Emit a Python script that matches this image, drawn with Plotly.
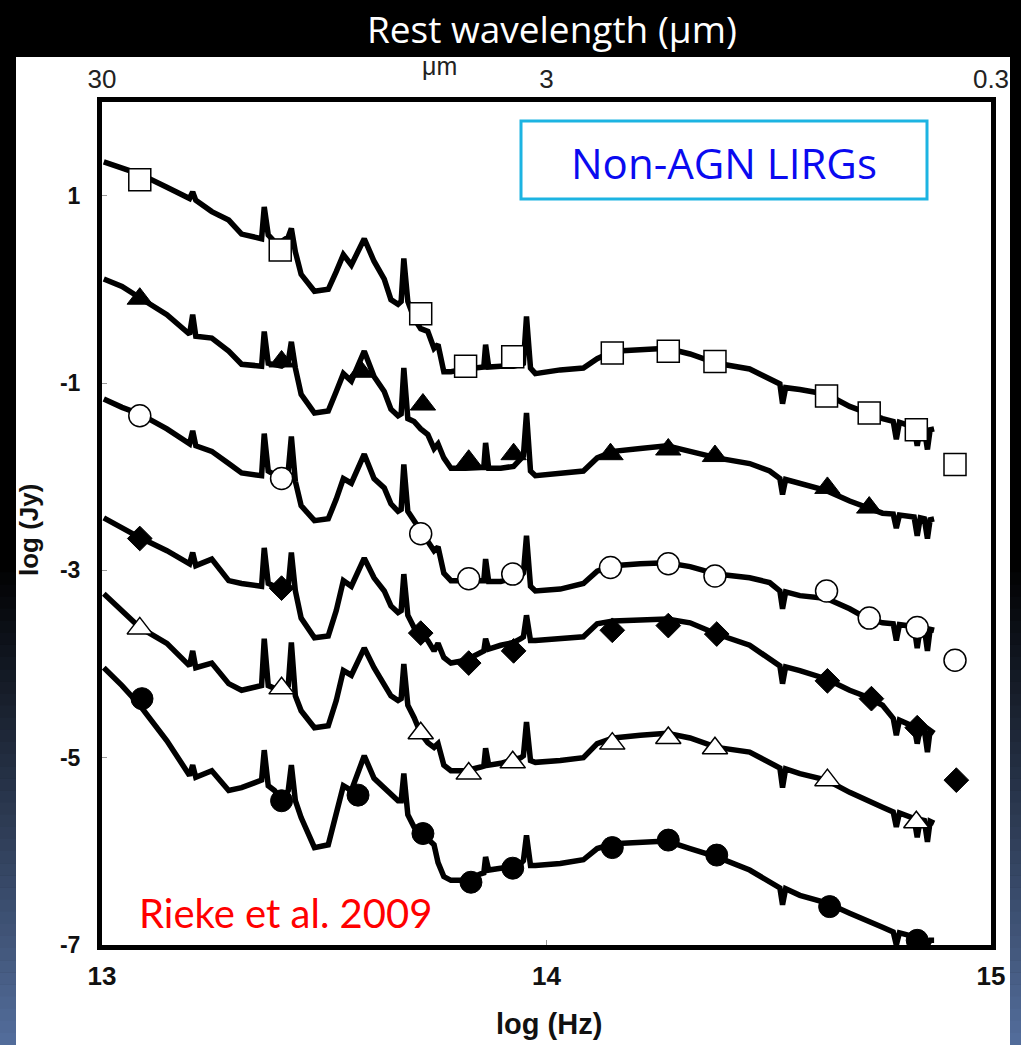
import plotly.graph_objects as go

# ---------------- data (log10 frequency [Hz], log10 flux [Jy]) ----------------
log_freq = [13.004, 13.045, 13.085, 13.146, 13.197, 13.204, 13.211, 13.247, 13.285, 13.314,
            13.359, 13.365, 13.374, 13.388, 13.404, 13.419, 13.426, 13.435, 13.448, 13.478,
            13.509, 13.527, 13.543, 13.561, 13.590, 13.612, 13.635, 13.650, 13.666, 13.673,
            13.679, 13.688, 13.702, 13.717, 13.733, 13.747, 13.756, 13.769, 13.785, 13.818,
            13.852, 13.859, 13.863, 13.870, 13.897, 13.926, 13.942, 13.948, 13.955, 13.964,
            13.975, 14.031, 14.083, 14.114, 14.150, 14.211, 14.271, 14.323, 14.383, 14.457,
            14.502, 14.525, 14.531, 14.538, 14.570, 14.630, 14.682, 14.720, 14.756, 14.780,
            14.787, 14.794, 14.827, 14.834, 14.841, 14.850, 14.857, 14.863, 14.872]

sed_square = [1.36, 1.30, 1.23, 1.09, 0.97, 1.04, 0.95, 0.83, 0.74, 0.59,
              0.54, 0.88, 0.58, 0.51, 0.51, 0.56, 0.65, 0.40, 0.16, -0.02,
              -0.00, 0.19, 0.37, 0.26, 0.54, 0.30, 0.11, -0.11, -0.16, -0.13,
              0.33, -0.13, -0.31, -0.42, -0.45, -0.63, -0.59, -0.88, -0.88, -0.85,
              -0.84, -0.83, -0.59, -0.83, -0.82, -0.82, -0.80, -0.79, -0.29, -0.84,
              -0.90, -0.86, -0.84, -0.74, -0.66, -0.64, -0.63, -0.69, -0.79, -0.85,
              -0.96, -1.01, -1.22, -1.05, -1.07, -1.12, -1.25, -1.32, -1.38, -1.41,
              -1.60, -1.42, -1.47, -1.67, -1.48, -1.49, -1.71, -1.50, -1.49]

sed_triangle = [0.11, 0.03, -0.09, -0.27, -0.48, -0.27, -0.50, -0.52, -0.66, -0.80,
                -0.82, -0.45, -0.79, -0.80, -0.82, -0.77, -0.56, -0.84, -1.12, -1.32,
                -1.30, -1.09, -0.90, -0.98, -0.66, -0.93, -1.09, -1.28, -1.35, -1.33,
                -0.84, -1.38, -1.41, -1.49, -1.55, -1.70, -1.65, -1.80, -1.91, -1.91,
                -1.90, -1.90, -1.64, -1.91, -1.91, -1.89, -1.81, -1.78, -1.32, -1.94,
                -1.99, -1.97, -1.94, -1.80, -1.73, -1.70, -1.67, -1.73, -1.80, -1.86,
                -1.94, -2.02, -2.19, -2.03, -2.07, -2.15, -2.26, -2.33, -2.39, -2.40,
                -2.55, -2.41, -2.43, -2.63, -2.44, -2.45, -2.66, -2.46, -2.45]

sed_circle = [-1.17, -1.26, -1.33, -1.49, -1.65, -1.51, -1.67, -1.73, -1.86, -1.96,
              -1.99, -1.54, -1.94, -1.97, -2.02, -1.94, -1.57, -2.05, -2.31, -2.47,
              -2.45, -2.24, -2.02, -2.07, -1.76, -2.02, -2.12, -2.29, -2.37, -2.35,
              -1.87, -2.37, -2.47, -2.58, -2.69, -2.79, -2.75, -3.03, -3.11, -3.11,
              -3.11, -3.11, -2.88, -3.12, -3.12, -3.09, -3.06, -3.03, -2.63, -3.17,
              -3.22, -3.20, -3.14, -3.01, -2.95, -2.93, -2.92, -2.96, -3.04, -3.08,
              -3.13, -3.22, -3.41, -3.23, -3.27, -3.30, -3.41, -3.51, -3.56, -3.57,
              -3.75, -3.58, -3.60, -3.83, -3.61, -3.62, -3.86, -3.63, -3.64]

sed_diamond = [-2.44, -2.55, -2.65, -2.79, -2.93, -2.81, -2.95, -2.88, -3.11, -3.14,
               -3.17, -2.76, -3.14, -3.17, -3.22, -3.17, -2.81, -3.22, -3.51, -3.72,
               -3.70, -3.43, -3.11, -3.17, -2.87, -3.08, -3.22, -3.38, -3.45, -3.43,
               -3.04, -3.48, -3.61, -3.67, -3.75, -3.86, -3.78, -3.93, -3.99, -3.96,
               -3.88, -3.86, -3.73, -3.84, -3.80, -3.77, -3.73, -3.71, -3.48, -3.75,
               -3.75, -3.73, -3.71, -3.57, -3.54, -3.53, -3.52, -3.56, -3.68, -3.80,
               -3.94, -4.02, -4.21, -4.03, -4.07, -4.16, -4.28, -4.35, -4.44, -4.58,
               -4.76, -4.60, -4.67, -4.85, -4.68, -4.70, -4.94, -4.71, -4.74]

sed_open_triangle = [-3.25, -3.43, -3.61, -3.78, -4.02, -3.86, -4.04, -3.99, -4.21, -4.28,
                     -4.23, -3.73, -4.23, -4.26, -4.28, -4.23, -3.77, -4.34, -4.50, -4.68,
                     -4.66, -4.39, -4.07, -4.12, -3.83, -4.04, -4.21, -4.34, -4.39, -4.37,
                     -4.00, -4.44, -4.57, -4.74, -4.84, -4.89, -4.85, -5.08, -5.14, -5.14,
                     -5.10, -5.09, -4.90, -5.08, -5.06, -5.03, -5.00, -4.98, -4.62, -5.03,
                     -5.05, -5.03, -5.00, -4.85, -4.79, -4.76, -4.74, -4.79, -4.89, -4.94,
                     -5.05, -5.11, -5.32, -5.12, -5.17, -5.24, -5.37, -5.46, -5.53, -5.58,
                     -5.74, -5.59, -5.65, -5.85, -5.66, -5.67, -5.90, -5.68, -5.70]

sed_dot = [-4.04, -4.23, -4.44, -4.82, -5.19, -5.08, -5.21, -5.14, -5.35, -5.32,
           -5.24, -4.92, -5.30, -5.35, -5.46, -5.35, -5.08, -5.46, -5.64, -5.96,
           -5.93, -5.61, -5.30, -5.35, -4.98, -5.22, -5.32, -5.40, -5.46, -5.46,
           -5.17, -5.61, -5.74, -5.80, -5.86, -5.93, -6.12, -6.27, -6.31, -6.31,
           -6.24, -6.23, -6.06, -6.20, -6.18, -6.16, -6.13, -6.10, -5.83, -6.15,
           -6.15, -6.13, -6.09, -5.97, -5.92, -5.90, -5.89, -5.97, -6.06, -6.20,
           -6.33, -6.39, -6.57, -6.40, -6.47, -6.55, -6.66, -6.73, -6.81, -6.86,
           -7.00, -6.87, -6.91, -6.95, -6.92, -6.94, -7.00, -6.95, -6.95]

# photometry points
square_x = [13.085, 13.401, 13.717, 13.818, 13.924, 14.148, 14.274, 14.379, 14.630, 14.726, 14.832, 14.919]
square_y = [1.17, 0.42, -0.26, -0.82, -0.72, -0.68, -0.66, -0.77, -1.14, -1.32, -1.50, -1.87]

triangle_x = [13.085, 13.404, 13.583, 13.722, 13.825, 13.926, 14.144, 14.274, 14.379, 14.632, 14.726]
triangle_y = [-0.10, -0.77, -0.88, -1.23, -1.83, -1.76, -1.76, -1.71, -1.78, -2.12, -2.33]

circle_x = [13.085, 13.404, 13.717, 13.825, 13.924, 14.144, 14.274, 14.379, 14.630, 14.726, 14.834, 14.919]
circle_y = [-1.35, -2.02, -2.61, -3.09, -3.04, -2.97, -2.93, -3.06, -3.22, -3.51, -3.61, -3.96]

diamond_x = [13.085, 13.404, 13.717, 13.825, 13.926, 14.148, 14.274, 14.383, 14.632, 14.731, 14.834, 14.922]
diamond_y = [-2.66, -3.19, -3.67, -3.99, -3.86, -3.64, -3.59, -3.68, -4.18, -4.37, -4.68, -5.24]

open_triangle_x = [13.085, 13.404, 13.717, 13.825, 13.924, 14.148, 14.274, 14.379, 14.632, 14.832]
open_triangle_y = [-3.62, -4.26, -4.74, -5.17, -5.05, -4.85, -4.79, -4.90, -5.24, -5.69]

dot_x = [13.090, 13.404, 13.576, 13.722, 13.830, 13.924, 14.148, 14.274, 14.383, 14.637, 14.834]
dot_y = [-4.37, -5.46, -5.40, -5.81, -6.33, -6.18, -5.96, -5.88, -6.04, -6.59, -6.95]

y_ticks = [-7, -5, -3, -1, 1]
x_ticks = [13, 14, 15]
top_ticks = [13, 14, 15]
top_tick_text = ["30", "3", "0.3"]

# ---------------- figure ----------------
W, H = 1021, 1045
ML, MR, MT, MB = 102, 30, 102, 100
PW, PH = W - ML - MR, H - MT - MB


def px(xp):
    return (xp - ML) / PW


def py(yp):
    return (H - MB - yp) / PH


fig = go.Figure()

line_style = dict(color="black", width=5.5)
curves = [sed_square, sed_triangle, sed_circle, sed_diamond, sed_open_triangle, sed_dot]
for c in curves:
    fig.add_trace(go.Scatter(x=log_freq, y=c, mode="lines", line=line_style,
                             showlegend=False, hoverinfo="skip"))

open_m = dict(color="white", line=dict(color="black", width=1.5))
filled_m = dict(color="black", line=dict(color="black", width=1))
marker_sets = [
    (square_x, square_y, "square", 22, open_m),
    (triangle_x, triangle_y, "triangle-up", 22, filled_m),
    (circle_x, circle_y, "circle", 22, open_m),
    (diamond_x, diamond_y, "diamond", 19, filled_m),
    (open_triangle_x, open_triangle_y, "triangle-up", 22, open_m),
    (dot_x, dot_y, "circle", 22, filled_m),
]
for mx, my, sym, sz, sty in marker_sets:
    fig.add_trace(go.Scatter(x=mx, y=my, mode="markers",
                             marker=dict(symbol=sym, size=sz, **sty),
                             showlegend=False, hoverinfo="skip"))

# dummy trace to carry the top (wavelength) axis
fig.add_trace(go.Scatter(x=top_ticks, y=[None] * len(top_ticks), xaxis="x2", mode="markers",
                         showlegend=False, hoverinfo="skip"))

shapes = []
# white scanned-figure panel
shapes.append(dict(type="rect", xref="paper", yref="paper", x0=px(16), x1=px(1010), y0=py(1045), y1=py(57),
                   fillcolor="white", line=dict(width=0), layer="below"))
# slide background gradient at the sides
n = 40
y_start, y_end = 560, 1045
c0, c1 = (0, 0, 0), (84, 110, 156)
for i in range(n):
    ya = y_start + (y_end - y_start) * i / n
    yb = y_start + (y_end - y_start) * (i + 1) / n
    t = (i + 0.5) / n
    col = "rgb(%d,%d,%d)" % tuple(int(c0[k] + (c1[k] - c0[k]) * t) for k in range(3))
    for xa, xb in [(0, 16), (1010, 1021)]:
        shapes.append(dict(type="rect", xref="paper", yref="paper", x0=px(xa), x1=px(xb),
                           y0=py(yb + 0.5), y1=py(ya), fillcolor=col, line=dict(width=0), layer="below"))
# label box
shapes.append(dict(type="rect", xref="paper", yref="paper", x0=px(521), x1=px(927), y0=py(199), y1=py(121),
                   fillcolor="white", line=dict(color="#1cb4e2", width=3), layer="above"))

annotations = [
    dict(text="Rest wavelength (\u03bcm)", xref="paper", yref="paper", x=px(552), y=py(28),
         showarrow=False, font=dict(family="Open Sans", size=37, color="white"), xanchor="center", yanchor="middle"),
    dict(text="\u03bcm", xref="paper", yref="paper", x=px(439), y=py(66),
         showarrow=False, font=dict(family="Liberation Sans", size=25, color="#222"), xanchor="center", yanchor="middle"),
    dict(text="Non-AGN LIRGs", xref="paper", yref="paper", x=px(724), y=py(162),
         showarrow=False, font=dict(family="Open Sans", size=42, color="#0a0af0"), xanchor="center", yanchor="middle"),
    dict(text="Rieke et al. 2009", xref="paper", yref="paper", x=px(137), y=py(913),
         showarrow=False, font=dict(family="Lato", size=40, color="#ff0000"), xanchor="left", yanchor="middle"),
    dict(text="<b>log (Jy)</b>", xref="paper", yref="paper", x=px(29), y=py(530), textangle=-90,
         showarrow=False, font=dict(family="Liberation Sans", size=26, color="#111"), xanchor="center", yanchor="middle"),
    dict(text="<b>log (Hz)</b>", xref="paper", yref="paper", x=px(549), y=py(1024),
         showarrow=False, font=dict(family="Liberation Sans", size=29, color="#111"), xanchor="center", yanchor="middle"),
]

fig.update_layout(
    width=W, height=H,
    margin=dict(l=ML, r=MR, t=MT, b=MB, pad=0),
    paper_bgcolor="black", plot_bgcolor="white",
    showlegend=False,
    shapes=shapes, annotations=annotations,
    xaxis=dict(range=[13, 15], tickvals=x_ticks, ticktext=[str(v) for v in x_ticks],
               showgrid=False, zeroline=False, showline=True, linecolor="black", linewidth=5, mirror=True,
               ticks="inside", ticklen=5, tickwidth=1, tickcolor="#999",
               tickfont=dict(family="Liberation Sans", size=26, color="#111", weight="bold"),
               ticklabelstandoff=4),
    xaxis2=dict(range=[13, 15], overlaying="x", side="top", tickvals=top_ticks, ticktext=top_tick_text,
                showgrid=False, zeroline=False, showline=False, ticks="",
                tickfont=dict(family="Liberation Sans", size=26, color="#222"), ticklabelstandoff=8),
    yaxis=dict(range=[-7, 2], tickvals=y_ticks, ticktext=[str(v) for v in y_ticks],
               showgrid=False, zeroline=False, showline=True, linecolor="black", linewidth=5, mirror=True,
               ticks="inside", ticklen=5, tickwidth=1, tickcolor="#999",
               tickfont=dict(family="Liberation Sans", size=23, color="#111", weight="bold"),
               ticklabelstandoff=12),
)

fig.write_html("out.html")
